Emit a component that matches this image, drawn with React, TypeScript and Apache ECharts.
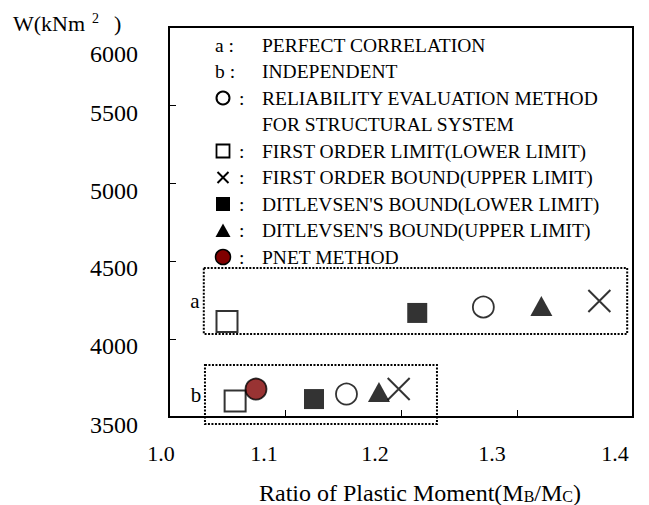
import React, { useEffect, useRef } from "react";
import * as echarts from "echarts";

// Axis ticks
const xTicks = [1.0, 1.1, 1.2, 1.3, 1.4];
const xTickLabels = ["1.0", "1.1", "1.2", "1.3", "1.4"];
const yTicks = [3500, 4000, 4500, 5000, 5500, 6000];
const yTickLabels = ["3500", "4000", "4500", "5000", "5500", "6000"];

// Points: [ratio MB/MC, W (kNm²)] — first for case a (perfect correlation), then case b (independent)
const reliability = [[1.271, 4205], [1.153, 3647]];
const firstOrderLower = [[1.05, 4112], [1.057, 3603]];
const firstOrderUpper = [[1.371, 4244], [1.198, 3679]];
const ditlevsenLower = [[1.214, 4167], [1.125, 3615]];
const ditlevsenUpper = [[1.321, 4212], [1.181, 3660]];
const pnet = [[1.075, 3679]];

// Legend entries
const legendMarks = ["a", "b", "circle", "", "square", "cross", "filledSquare", "triangle", "pnet"];
const legendTexts = [
  "PERFECT CORRELATION",
  "INDEPENDENT",
  "RELIABILITY EVALUATION METHOD",
  "FOR STRUCTURAL SYSTEM",
  "FIRST ORDER LIMIT(LOWER LIMIT)",
  "FIRST ORDER BOUND(UPPER LIMIT)",
  "DITLEVSEN'S BOUND(LOWER LIMIT)",
  "DITLEVSEN'S BOUND(UPPER LIMIT)",
  "PNET METHOD",
];

// Group frames in data units: [xFrom, xTo, wFrom, wTo]
const groupA = [1.03, 1.395, 4032, 4455];
const groupB = [1.031, 1.231, 3455, 3833];

const FONT = '"Liberation Serif", "Times New Roman", serif';
const MAROON = "#800000";

// label placement tweaks (px)
const xLabelNudge = [-8, -21, -26, -25, -18];
const yLabelNudge = [8, 7, 7, 8, 8, 27];

export default function App() {
  const ref = useRef<HTMLDivElement>(null);

  useEffect(() => {
    if (!ref.current) return;
    const chart = echarts.init(ref.current, null, { renderer: "svg" });

    const hollow = { color: "#fff", borderColor: "#000", borderWidth: 1.8 };
    chart.setOption({
      animation: false,
      grid: { left: 169, right: 16, top: 27, bottom: 88, show: true, borderColor: "#000", borderWidth: 2 },
      xAxis: {
        type: "value",
        min: 1.0,
        max: 1.4,
        interval: 0.1,
        axisLine: { lineStyle: { color: "#000", width: 2 } },
        axisTick: { inside: true, length: 7, lineStyle: { color: "#000", width: 1 } },
        axisLabel: { show: false },
        splitLine: { show: false },
      },
      yAxis: {
        type: "value",
        min: 3500,
        max: 6000,
        interval: 500,
        axisLine: { lineStyle: { color: "#000", width: 2 } },
        axisTick: { inside: true, length: 7, lineStyle: { color: "#000", width: 1 } },
        axisLabel: { show: false },
        splitLine: { show: false },
      },
      series: [
        { type: "scatter", data: firstOrderLower, symbol: "rect", symbolSize: 21, itemStyle: { ...hollow, borderWidth: 2 } },
        { type: "scatter", data: pnet, symbol: "circle", symbolSize: 21, itemStyle: { color: MAROON, borderColor: "#000", borderWidth: 1.8 } },
        { type: "scatter", data: ditlevsenLower, symbol: "rect", symbolSize: 20, itemStyle: { color: "#000" } },
        { type: "scatter", data: reliability, symbol: "circle", symbolSize: 21, itemStyle: hollow },
        { type: "scatter", data: ditlevsenUpper, symbol: "triangle", symbolSize: [22, 20], itemStyle: { color: "#000" } },
        {
          type: "scatter",
          data: firstOrderUpper,
          symbol: "path://M0,0L10,10M10,0L0,10",
          symbolSize: 22,
          itemStyle: { color: "transparent", borderColor: "#000", borderWidth: 2 },
        },
      ].map((s) => ({ ...s, emphasis: { disabled: true }, silent: true })),
    });

    const px = (x: number, y: number) => chart.convertToPixel({ gridIndex: 0 }, [x, y]) as number[];
    const txt = (x: number, y: number, text: string, size: number, align = "left") => ({
      type: "text",
      x,
      y,
      silent: true,
      style: {
        text,
        fontSize: size,
        fontFamily: FONT,
        fontWeight: "normal",
        fill: "#000",
        align,
        verticalAlign: "middle",
        textAlign: align,
        textVerticalAlign: "middle",
      },
    });

    const g: any[] = [];

    // tick labels
    xTicks.forEach((v, i) => {
      const [x, y] = px(v, 3500);
      g.push(txt(x + xLabelNudge[i], y + 36, xTickLabels[i], 22, "center"));
    });
    yTicks.forEach((v, i) => {
      const [x, y] = px(1.0, v);
      g.push(txt(x - 31, y + yLabelNudge[i], yTickLabels[i], 24, "right"));
    });

    // axis titles
    g.push(txt(13, 23, "W(kNm", 22));
    g.push(txt(92, 18, "2", 14));
    g.push(txt(114, 23, ")", 22));
    g.push({
      type: "text",
      x: 420,
      y: 493,
      silent: true,
      style: {
        text: "{n|Ratio of Plastic Moment(M}{s|B}{n|/M}{s|C}{n|)}",
        fontSize: 24,
        fontFamily: FONT,
        fill: "#000",
        align: "center",
        verticalAlign: "middle",
        textAlign: "center",
        textVerticalAlign: "middle",
        rich: {
          n: { fontSize: 24, fontFamily: FONT, lineHeight: 24, verticalAlign: "bottom" },
          s: { fontSize: 16, fontFamily: FONT, lineHeight: 24, verticalAlign: "bottom", padding: [0, 0, 1, 0] },
        },
      },
    });

    // dotted group frames
    [groupA, groupB].forEach((b, i) => {
      const [x1, y1] = px(b[0], b[3]);
      const [x2, y2] = px(b[1], b[2]);
      g.push({
        type: "rect",
        silent: true,
        shape: { x: x1, y: y1, width: x2 - x1, height: y2 - y1 },
        style: { fill: "none", stroke: "#000", lineWidth: 2, lineDash: [2, 1.5] },
      });
      g.push(txt(x1 - 9, (y1 + y2) / 2, i === 0 ? "a" : "b", 21, "center"));
    });

    // legend
    const rowY0 = 45;
    const rowStep = 26.5;
    const symX = 223;
    legendMarks.forEach((m, i) => {
      const cy = rowY0 + i * rowStep;
      g.push(txt(262, cy, legendTexts[i], 19.5));
      if (m === "a" || m === "b") {
        g.push(txt(215, cy, m + " :", 19.5));
        return;
      }
      if (m) g.push(txt(239, cy, ":", 19.5));
      if (m === "circle") {
        g.push({ type: "circle", silent: true, shape: { cx: symX, cy, r: 6.5 }, style: { fill: "#fff", stroke: "#000", lineWidth: 2 } });
      } else if (m === "square") {
        g.push({ type: "rect", silent: true, shape: { x: symX - 6.5, y: cy - 6.5, width: 13, height: 13 }, style: { fill: "#fff", stroke: "#000", lineWidth: 1.8 } });
      } else if (m === "filledSquare") {
        g.push({ type: "rect", silent: true, shape: { x: symX - 7, y: cy - 7, width: 14, height: 14 }, style: { fill: "#000" } });
      } else if (m === "triangle") {
        g.push({ type: "polygon", silent: true, shape: { points: [[symX, cy - 7], [symX + 7.5, cy + 6.5], [symX - 7.5, cy + 6.5]] }, style: { fill: "#000" } });
      } else if (m === "cross") {
        g.push({ type: "line", silent: true, shape: { x1: symX - 5.5, y1: cy - 5.5, x2: symX + 5.5, y2: cy + 5.5 }, style: { stroke: "#000", lineWidth: 2 } });
        g.push({ type: "line", silent: true, shape: { x1: symX + 5.5, y1: cy - 5.5, x2: symX - 5.5, y2: cy + 5.5 }, style: { stroke: "#000", lineWidth: 2 } });
      } else if (m === "pnet") {
        g.push({ type: "circle", silent: true, shape: { cx: symX, cy, r: 7.5 }, style: { fill: MAROON, stroke: "#000", lineWidth: 1.5 } });
      }
    });

    chart.setOption({ graphic: g });

    return () => chart.dispose();
  }, []);

  return <div ref={ref} style={{ position: "fixed", left: 0, top: 0, width: 649, height: 505, background: "#fff" }} />;
}
